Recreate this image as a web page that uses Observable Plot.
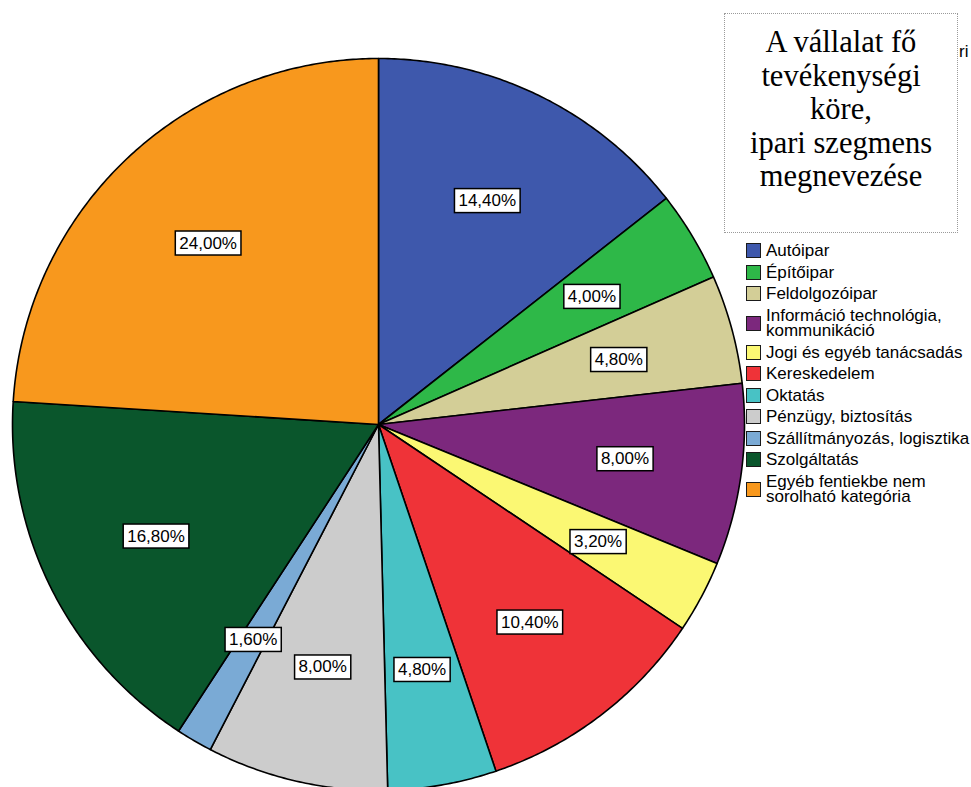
<!DOCTYPE html>
<html>
<head>
<meta charset="utf-8">
<script src="https://cdn.jsdelivr.net/npm/d3@7"></script>
<script src="https://cdn.jsdelivr.net/npm/@observablehq/plot@0.6"></script>
<style>
  html, body { margin: 0; padding: 0; background: white; overflow: hidden; }
  #wrap { position: relative; width: 971px; height: 787px; }
  #chart svg { display: block; }
  #titlebox {
    position: absolute; left: 724px; top: 13px; width: 232px; height: 206px;
    border: 1.5px dotted #9a9a9a; background: white; box-sizing: content-box;
    font-family: "Liberation Serif", "Times New Roman", serif; font-size: 30.5px;
    line-height: 33.5px; text-align: center; padding-top: 12px; z-index: 3;
  }
  #frag { position: absolute; left: 959px; top: 42px; font-family: "Liberation Sans", Arial, sans-serif; font-size: 17px; z-index: 2; }
  #legend { position: absolute; left: 746px; top: 240px; font-family: "Liberation Sans", Arial, sans-serif; font-size: 17px; color: #000; z-index: 2; }
  .item { display: flex; align-items: center; padding: 3px 0; }
  .sw { width: 13px; height: 13px; border: 1.5px solid #1a1a1a; margin-right: 5px; flex: none; }
  .lab { line-height: 15.5px; white-space: pre; }
</style>
</head>
<body>
<div id="wrap">
  <div id="chart"></div>
  <div id="frag">ri</div>
  <div id="titlebox">A vállalat fő<br>tevékenységi<br>köre,<br>ipari szegmens<br>megnevezése</div>
  <div id="legend"></div>
</div>
<script>
const categories = [
  "Autóipar", "Építőipar", "Feldolgozóipar", "Információ technológia, kommunikáció",
  "Jogi és egyéb tanácsadás", "Kereskedelem", "Oktatás", "Pénzügy, biztosítás",
  "Szállítmányozás, logisztika", "Szolgáltatás", "Egyéb fentiekbe nem sorolható kategória"
];
const legendLabels = [
  "Autóipar", "Építőipar", "Feldolgozóipar", "Információ technológia,\nkommunikáció",
  "Jogi és egyéb tanácsadás", "Kereskedelem", "Oktatás", "Pénzügy, biztosítás",
  "Szállítmányozás, logisztika", "Szolgáltatás", "Egyéb fentiekbe nem\nsorolható kategória"
];
const values = [14.4, 4.0, 4.8, 8.0, 3.2, 10.4, 4.8, 8.0, 1.6, 16.8, 24.0];
const colors = [
  "#3e58ac", "#2eb848", "#d3ce97", "#7c287d", "#fbf873", "#ef3338",
  "#48c2c5", "#cccccc", "#7aaad5", "#0a562c", "#f8981d"
];

const rows = categories.map((c, i) => ({cat: c, value: values[i]}));
const arcs = d3.pie().sort(null).value(d => d.value)(rows);

// slice outlines in unit-circle data space
const polys = arcs.flatMap(a => {
  const n = Math.max(2, Math.ceil((a.endAngle - a.startAngle) / (Math.PI / 360)));
  const pts = [{cat: a.data.cat, x: 0, y: 0}];
  for (let i = 0; i <= n; i++) {
    const t = a.startAngle + (a.endAngle - a.startAngle) * i / n;
    pts.push({cat: a.data.cat, x: Math.sin(t), y: Math.cos(t)});
  }
  return pts;
});

const labelR = 0.68;
const labels = arcs.map(a => {
  const m = (a.startAngle + a.endAngle) / 2;
  return {x: labelR * Math.sin(m), y: labelR * Math.cos(m),
          text: a.data.value.toFixed(2).replace(".", ",") + "%"};
});

const cx = 378, cy = 424, R = 366;
const plot = Plot.plot({
  width: 971, height: 787, margin: 0,
  style: {fontFamily: "'Liberation Sans', Arial, sans-serif", background: "white"},
  x: {domain: [-1, 1], range: [cx - R, cx + R], axis: null},
  y: {domain: [-1, 1], range: [cy + R, cy - R], axis: null},
  color: {domain: categories, range: colors},
  marks: [
    Plot.line(polys, {x: "x", y: "y", z: "cat", fill: "cat", stroke: "black",
      strokeWidth: 1.6, curve: "linear-closed", strokeLinejoin: "round"}),
    Plot.text(labels, {x: "x", y: "y", text: "text", fill: "black", fontSize: 17})
  ]
});
document.getElementById("chart").appendChild(plot);

// white framed boxes behind the percentage labels
const tg = plot.querySelector('g[aria-label="text"]');
if (tg) {
  tg.querySelectorAll("text").forEach(t => {
    const bb = t.getBBox();
    const r = document.createElementNS("http://www.w3.org/2000/svg", "rect");
    r.setAttribute("x", bb.x - 4);
    r.setAttribute("y", bb.y - 2.5);
    r.setAttribute("width", bb.width + 8);
    r.setAttribute("height", bb.height + 5);
    r.setAttribute("fill", "white");
    r.setAttribute("stroke", "black");
    r.setAttribute("stroke-width", 1.5);
    const tr = t.getAttribute("transform");
    if (tr) r.setAttribute("transform", tr);
    tg.insertBefore(r, t);
  });
}

// legend
const lg = document.getElementById("legend");
legendLabels.forEach((l, i) => {
  const it = document.createElement("div");
  it.className = "item";
  const sw = document.createElement("div");
  sw.className = "sw";
  sw.style.background = colors[i];
  const tx = document.createElement("div");
  tx.className = "lab";
  tx.textContent = l;
  it.appendChild(sw); it.appendChild(tx);
  lg.appendChild(it);
});
</script>
</body>
</html>
